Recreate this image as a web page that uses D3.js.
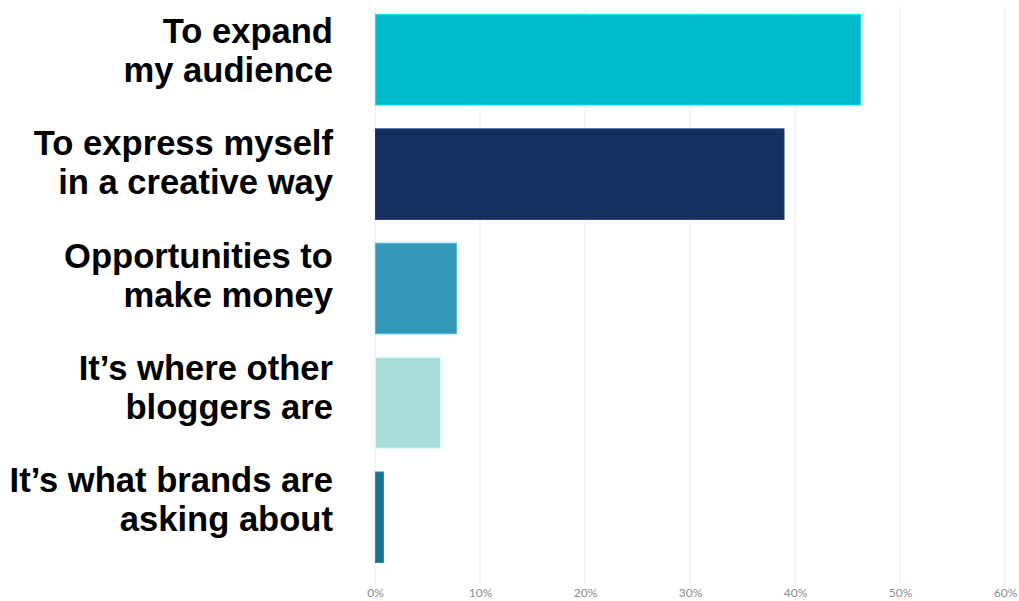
<!DOCTYPE html>
<html><head><meta charset="utf-8">
<script src="https://cdn.jsdelivr.net/npm/d3@7"></script>
<style>body{margin:0;background:#fff}svg{display:block}</style>
</head><body>
<svg id="c" width="1019" height="601"></svg>
<script>
const categories = [
  ["To expand", "my audience"],
  ["To express myself", "in a creative way"],
  ["Opportunities to", "make money"],
  ["It\u2019s where other", "bloggers are"],
  ["It\u2019s what brands are", "asking about"]
];
const values = [46.3, 39.0, 7.8, 6.3, 0.85];
const colors = ["#00B9CB", "#172F5E", "#3497B8", "#A8DCD8", "#17748A"];
const tickValues = [0, 10, 20, 30, 40, 50, 60];

const svg = d3.select("#c");
const x = d3.scaleLinear().domain([0, 60]).range([375, 1005]);
const y = d3.scaleBand().domain(d3.range(categories.length)).range([14, 563]).paddingInner(0.2).paddingOuter(0);
// label block positions (first-line baselines)
const yl = d3.scalePoint().domain(d3.range(categories.length)).range([43, 492]);

// gridlines
svg.append("g").selectAll("line").data(tickValues).join("line")
  .attr("x1", d => x(d)).attr("x2", d => x(d))
  .attr("y1", 7).attr("y2", 584)
  .attr("stroke", "#ebebeb").attr("stroke-width", 1);

// axis labels
const ax = svg.append("g").attr("transform", "translate(0,582)")
  .call(d3.axisBottom(x).tickValues(tickValues).tickFormat(d => d + "%").tickSize(0).tickPadding(6));
ax.select(".domain").remove();
ax.selectAll("text").attr("fill", "#8a8a8a").style("font-family", "Lato, 'Open Sans', sans-serif").style("font-size", "12px");

// bars
svg.append("g").selectAll("rect").data(values).join("rect")
  .attr("x", x(0) + 0.5).attr("y", (d, i) => y(i) + 0.5)
  .attr("width", d => x(d) - x(0) - 1).attr("height", y.bandwidth() - 1)
  .attr("fill", (d, i) => colors[i])
  .attr("stroke", (d, i) => d3.color(colors[i]).brighter(0.6))
  .attr("stroke-width", 1);

// labels
const lab = svg.append("g").selectAll("text").data(categories).join("text")
  .attr("text-anchor", "end")
  .attr("x", 333)
  .attr("y", (d, i) => yl(i))
  .style("font-family", "'Liberation Sans', Arial, sans-serif")
  .style("font-weight", "bold")
  .style("font-size", "34.6px")
  .attr("fill", "#000");
lab.selectAll("tspan").data(d => d).join("tspan")
  .attr("x", 333)
  .attr("dy", (d, j) => j === 0 ? 0 : 39)
  .text(d => d);
</script>
</body></html>
